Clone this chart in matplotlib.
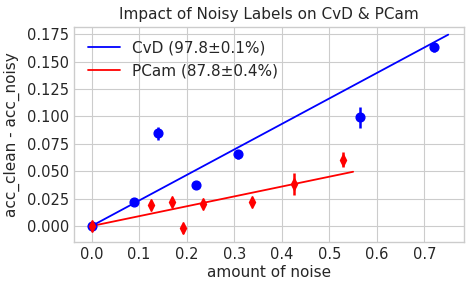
import matplotlib
matplotlib.use('Agg')
import matplotlib.pyplot as plt

# noise level vs accuracy drop (clean - noisy)
cvd_noise = [0.0, 0.090, 0.139, 0.219, 0.308, 0.565, 0.721]
cvd_drop = [0.0, 0.0216, 0.0844, 0.0371, 0.0653, 0.099, 0.1635]
cvd_err = [0.0015, 0.002, 0.006, 0.003, 0.004, 0.0095, 0.0045]

pcam_noise = [0.0, 0.126, 0.170, 0.193, 0.234, 0.337, 0.426, 0.529]
pcam_drop = [0.0, 0.0190, 0.0219, -0.0020, 0.0203, 0.0219, 0.0385, 0.0605]
pcam_err = [0.0015, 0.003, 0.003, 0.004, 0.003, 0.004, 0.010, 0.0068]

# fitted lines
cvd_fit_x = [0.0, 0.75]
cvd_fit_y = [0.0, 0.1745]
pcam_fit_x = [0.0, 0.55]
pcam_fit_y = [0.0, 0.0495]

plt.style.use('seaborn-v0_8-whitegrid')
plt.rcParams['font.family'] = ['DejaVu Sans']

fig = plt.figure(figsize=(4.71, 2.87), dpi=100)
ax = fig.add_axes([0.157, 0.157, 0.828, 0.749])

ax.plot(cvd_fit_x, cvd_fit_y, color='blue', lw=1.3, label='CvD (97.8±0.1%)')
ax.plot(pcam_fit_x, pcam_fit_y, color='red', lw=1.3, label='PCam (87.8±0.4%)')
ax.errorbar(cvd_noise, cvd_drop, yerr=cvd_err, fmt='o', color='blue', ms=6.3, elinewidth=1.8, capsize=0)
ax.errorbar(pcam_noise, pcam_drop, yerr=pcam_err, fmt='d', color='red', ms=5.8, elinewidth=1.8, capsize=0)

ax.set_xticks([0.0, 0.1, 0.2, 0.3, 0.4, 0.5, 0.6, 0.7])
ax.set_yticks([0.0, 0.025, 0.05, 0.075, 0.1, 0.125, 0.15, 0.175])
ax.set_xlim(-0.037, 0.783)
ax.set_ylim(-0.0145, 0.1815)
ax.tick_params(labelsize=10.5, colors='.15')
ax.set_xlabel('amount of noise', fontsize=11, color='.15', labelpad=2)
ax.set_ylabel('acc_clean - acc_noisy', fontsize=11, color='.15', labelpad=5)
ax.set_title('Impact of Noisy Labels on CvD & PCam', fontsize=11, color='.15')
ax.legend(loc='upper left', fontsize=11, frameon=False, handlelength=2.1)

fig.savefig('out.png', dpi=100)
